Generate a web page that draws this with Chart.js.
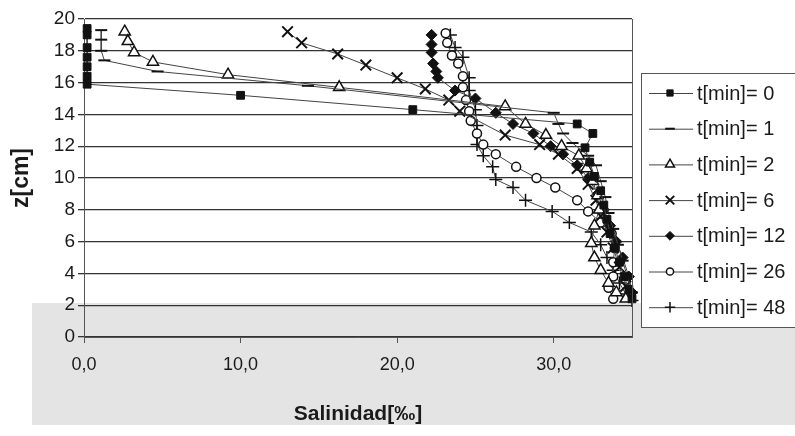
<!DOCTYPE html>
<html>
<head>
<meta charset="utf-8">
<script src="https://cdn.jsdelivr.net/npm/chart.js@4.4.0/dist/chart.umd.min.js"></script>
<style>
  html, body { margin: 0; padding: 0; background: #fff; }
  #wrap { position: relative; width: 795px; height: 436px; }
</style>
</head>
<body>
<div id="wrap"><canvas id="sal-chart"></canvas></div>
<script>
// perfiles de salinidad z[cm] vs Salinidad, por tiempo
var seriesLabels = ["t[min]= 0", "t[min]= 1", "t[min]= 2", "t[min]= 6", "t[min]= 12", "t[min]= 26", "t[min]= 48"];

var sal0 = [0.2, 0.2, 0.2, 0.2, 0.2, 0.2, 0.2, 10.0, 21.0, 31.5, 32.5, 32.0, 32.3, 32.6, 33.0, 33.2, 33.4, 33.6, 33.9, 34.2, 34.5, 34.8, 35.0];
var z0   = [19.4, 19.0, 18.2, 17.6, 17.0, 16.4, 15.9, 15.2, 14.3, 13.4, 12.8, 11.9, 11.0, 10.1, 9.2, 8.3, 7.4, 6.5, 5.6, 4.7, 3.8, 3.0, 2.4];

var sal1 = [1.1, 1.1, 1.1, 1.3, 4.7, 14.3, 30.0, 30.3, 30.6, 31.2, 32.2, 32.7, 33.0, 33.3, 33.5, 33.8, 34.1, 34.4, 34.7, 35.0];
var z1   = [19.3, 18.7, 18.0, 17.4, 16.7, 15.8, 14.1, 13.4, 12.8, 12.2, 11.4, 10.8, 9.8, 8.8, 7.8, 6.8, 5.8, 4.8, 3.8, 2.8];

var sal2 = [2.6, 2.8, 3.2, 4.4, 9.2, 16.3, 26.9, 28.2, 29.5, 30.5, 31.6, 32.1, 32.5, 32.8, 32.9, 32.6, 32.4, 32.6, 33.0, 33.5, 34.0, 34.6];
var z2   = [19.2, 18.6, 17.9, 17.3, 16.5, 15.7, 14.5, 13.4, 12.7, 12.0, 11.4, 10.6, 9.8, 8.9, 8.0, 7.0, 5.9, 5.0, 4.2, 3.4, 2.8, 2.4];

var sal6 = [13.0, 13.9, 16.2, 18.0, 20.0, 21.8, 23.3, 24.0, 26.9, 29.1, 30.3, 31.5, 32.2, 32.7, 33.0, 33.4, 33.8, 34.2, 34.6];
var z6   = [19.2, 18.5, 17.8, 17.1, 16.3, 15.6, 14.9, 14.2, 12.7, 12.1, 11.5, 10.6, 9.6, 8.6, 7.6, 6.6, 5.6, 4.4, 3.2];

var sal12 = [22.2, 22.2, 22.2, 22.3, 22.5, 22.6, 23.7, 25.0, 26.3, 27.4, 28.7, 29.8, 30.6, 31.5, 32.2, 32.8, 33.2, 33.6, 34.0, 34.4, 34.8, 35.0];
var z12   = [19.0, 18.4, 17.9, 17.2, 16.7, 16.3, 15.5, 15.0, 14.1, 13.4, 12.8, 12.0, 11.5, 10.8, 10.0, 9.0, 8.0, 7.0, 6.0, 5.0, 3.8, 2.8];

var sal26 = [23.1, 23.2, 23.5, 23.9, 24.2, 24.2, 24.4, 24.6, 24.7, 25.1, 25.5, 26.3, 27.6, 28.9, 30.1, 31.5, 32.2, 33.0, 33.7, 33.9, 33.8, 33.8, 33.5, 33.8];
var z26   = [19.1, 18.5, 17.7, 17.2, 16.4, 15.7, 14.9, 14.2, 13.6, 12.8, 12.1, 11.5, 10.7, 10.0, 9.4, 8.6, 7.9, 7.2, 6.5, 5.6, 4.7, 3.8, 3.1, 2.4];

var sal48 = [23.4, 23.7, 24.2, 24.6, 24.6, 25.0, 25.1, 25.1, 25.5, 26.1, 26.3, 27.4, 28.2, 29.9, 31.0, 32.4, 33.0, 33.4, 33.8, 34.2, 34.6, 35.0];
var z48   = [19.0, 18.2, 17.6, 16.3, 15.5, 14.3, 13.3, 12.1, 11.4, 10.7, 9.9, 9.4, 8.6, 7.9, 7.2, 6.6, 5.8, 5.0, 4.2, 3.4, 2.7, 2.3];

var xTickValues = [0, 10, 20, 30];
var yMin = 0, yMax = 20, yStep = 2;
var xMin = 0, xMax = 35;

function pts(xs, zs) {
  var out = [];
  for (var i = 0; i < xs.length; i++) out.push({ x: xs[i], y: zs[i] });
  return out;
}

var INK = "#111";
var FAM = "'Liberation Sans', Arial, sans-serif";
function serie(label, data, style, radius, filled, bw) {
  return {
    label: label,
    data: data,
    showLine: true,
    borderColor: "#444",
    borderWidth: 1,
    pointStyle: style,
    pointRadius: radius,
    pointHoverRadius: radius,
    pointBorderColor: INK,
    pointBackgroundColor: filled ? INK : "#fff",
    pointBorderWidth: bw || 1.5,
    clip: 10
  };
}

var datasets = [
  serie(seriesLabels[0], pts(sal0, z0), "rect", 5.5, true, 1),
  serie(seriesLabels[1], pts(sal1, z1), "line", 6, false, 2),
  serie(seriesLabels[2], pts(sal2, z2), "triangle", 6.5, false, 1.5),
  serie(seriesLabels[3], pts(sal6, z6), "crossRot", 7.5, false, 2),
  serie(seriesLabels[4], pts(sal12, z12), "rectRot", 5.5, true, 1),
  serie(seriesLabels[5], pts(sal26, z26), "circle", 4.5, false, 1.5),
  serie(seriesLabels[6], pts(sal48, z48), "cross", 6.5, false, 1.5)
];

// fondo: blanco + franja gris del escaneo
var fondo = {
  id: "fondo",
  beforeDraw: function(chart) {
    var c = chart.ctx;
    c.save();
    c.fillStyle = "#fff";
    c.fillRect(0, 0, chart.width, chart.height);
    c.fillStyle = "#e4e4e4";
    c.fillRect(32, 303, chart.width - 32, 122);
    c.restore();
  }
};

// borde derecho del área + leyenda con recuadro
var marco = {
  id: "marco",
  afterDraw: function(chart) {
    var c = chart.ctx, a = chart.chartArea;
    c.save();
    c.strokeStyle = "#555";
    c.lineWidth = 1;
    c.beginPath();
    c.moveTo(a.right + 0.5, a.top);
    c.lineTo(a.right + 0.5, a.bottom);
    c.stroke();

    // leyenda
    var bx = 641, by = 73, bw = 160, bh = 254;
    c.fillStyle = "#fff";
    c.fillRect(bx, by, bw, bh);
    c.strokeStyle = "#555";
    c.strokeRect(bx + 0.5, by + 0.5, bw, bh);
    var rowY = 93, gap = 35.7;
    c.font = "20px " + FAM;
    c.textBaseline = "middle";
    chart.data.datasets.forEach(function(ds, i) {
      var y = rowY + i * gap;
      c.strokeStyle = "#444";
      c.lineWidth = 1;
      c.beginPath();
      c.moveTo(649, y + 0.5);
      c.lineTo(693, y + 0.5);
      c.stroke();
      c.fillStyle = ds.pointBackgroundColor;
      c.strokeStyle = ds.pointBorderColor;
      c.lineWidth = ds.pointBorderWidth;
      Chart.helpers.drawPoint(c, {
        pointStyle: ds.pointStyle,
        radius: ds.pointRadius * 0.8,
        borderWidth: ds.pointBorderWidth,
        rotation: 0
      }, 670, y);
      c.fillStyle = "#1a1a1a";
      c.fillText(ds.label, 697, y + 1);
    });
    c.restore();
  }
};

var ctx = document.getElementById("sal-chart").getContext("2d");
new Chart(ctx, {
  type: "scatter",
  data: { datasets: datasets },
  options: {
    responsive: true,
    maintainAspectRatio: false,
    animation: false,
    layout: { padding: { top: 19, right: 163, bottom: 0, left: 0 } },
    plugins: {
      legend: { display: false },
      tooltip: { enabled: false }
    },
    scales: {
      x: {
        type: "linear",
        min: xMin,
        max: xMax,
        afterFit: function(s) { s.height = 99; },
        afterBuildTicks: function(s) {
          s.ticks = xTickValues.map(function(v) { return { value: v }; });
        },
        grid: { drawOnChartArea: false, drawTicks: true, tickLength: 6, color: "#555" },
        border: { display: true, color: "#555", width: 1 },
        ticks: {
          color: "#1a1a1a",
          font: { family: FAM, size: 18 },
          padding: 11,
          maxRotation: 0,
          callback: function(v) { return v.toFixed(1).replace(".", ","); }
        },
        title: {
          display: true,
          text: "Salinidad[‰]",
          color: "#1a1a1a",
          font: { family: FAM, size: 21, weight: "bold" },
          padding: { top: 0, bottom: 9 }
        }
      },
      y: {
        type: "linear",
        min: yMin,
        max: yMax,
        afterFit: function(s) { s.width = 84; },
        grid: { color: "#333", lineWidth: 1.3, tickLength: 6 },
        border: { display: true, color: "#555", width: 1 },
        ticks: {
          stepSize: yStep,
          color: "#1a1a1a",
          font: { family: FAM, size: 19 },
          padding: 3
        },
        title: {
          display: true,
          text: "z[cm]",
          color: "#1a1a1a",
          font: { family: FAM, size: 23, weight: "bold" },
          padding: { top: 8, bottom: 0 }
        }
      }
    }
  },
  plugins: [fondo, marco]
});
</script>
</body>
</html>
